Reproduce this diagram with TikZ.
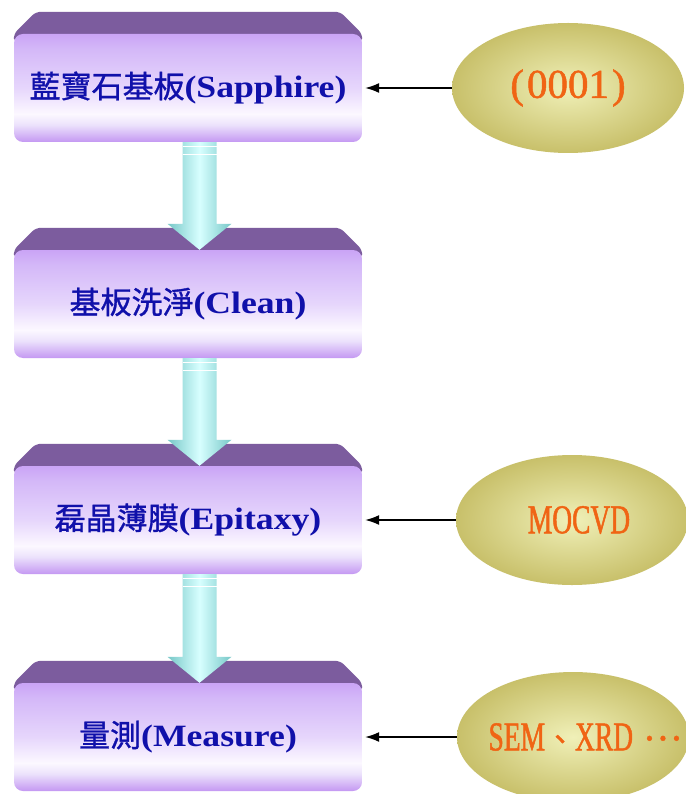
\documentclass[tikz,border=0pt]{standalone}
\usepackage{fontspec}
\setmainfont{Liberation Serif}
\newfontfamily\cjk{Noto Sans CJK TC}[FakeBold=1]
\newfontfamily\widefont{Liberation Serif}[FakeStretch=1.15]
\newfontfamily\ovalfont{Liberation Serif}[FakeBold=1.2]
\newfontfamily\narrowfont{Liberation Serif}[FakeStretch=0.67,FakeBold=1.2]
\usetikzlibrary{shapes.geometric,backgrounds,arrows.meta}

\definecolor{boxviolet}{RGB}{196,152,242}
\definecolor{boxtop}{RGB}{202,164,246}
\definecolor{boxpale}{RGB}{236,226,252}
\definecolor{boxwhite}{RGB}{252,248,255}
\definecolor{boxmid}{RGB}{230,214,252}
\definecolor{boxupper}{RGB}{212,184,248}
\definecolor{boxband}{RGB}{124,92,158}
\definecolor{labelblue}{RGB}{16,16,170}
\definecolor{labelorange}{RGB}{240,100,20}
\definecolor{ovalinner}{RGB}{240,240,184}
\definecolor{ovalouter}{RGB}{200,192,106}
\definecolor{flowedge}{RGB}{120,200,200}
\definecolor{flowmid}{RGB}{215,255,255}

\pgfdeclareverticalshading{stepshade}{100bp}{color(0bp)=(boxviolet); color(25bp)=(boxviolet); color(33bp)=(boxpale); color(38bp)=(boxwhite); color(50bp)=(boxmid); color(68bp)=(boxupper); color(75bp)=(boxtop); color(100bp)=(boxtop)}

\begin{document}
\begin{tikzpicture}[x=1pt, y=-1pt,
  stepbox/.style={rectangle, rounded corners=9pt, minimum width=348pt, minimum height=108pt,
    inner sep=0pt, shade, shading=stepshade, text=labelblue, font=\fontsize{31}{36}\selectfont},
  oval/.style={ellipse, minimum width=232pt, minimum height=130pt, inner sep=0pt,
    inner color=ovalinner, outer color=ovalouter, text=labelorange, font=\fontsize{41}{44}\selectfont},
  flowarrow/.style={left color=flowedge, right color=flowedge, middle color=flowmid},
  feed/.style={-{Latex[length=14pt,width=10pt]}, line width=1.4pt, shorten >=3pt}]

\useasboundingbox (0,0) rectangle (685,794);
\begin{pgfonlayer}{background}
\fill[white] (0,0) rectangle (685,794);
\end{pgfonlayer}

% Process steps
\node[stepbox] (sapphire) at (188,88) {{\cjk 藍寶石基板}{\widefont\bfseries(Sapphire)}};
\node[stepbox] (clean) at (188,304) {{\cjk 基板洗淨}{\widefont\bfseries(Clean)}};
\node[stepbox] (epitaxy) at (188,520) {{\cjk 磊晶薄膜}{\widefont\bfseries(Epitaxy)}};
\node[stepbox] (measure) at (188,737) {{\cjk 量測}{\widefont\bfseries(Measure)}};

% Dark top bevel of each step
\begin{pgfonlayer}{background}
\foreach \s in {sapphire,clean,epitaxy,measure}
  \fill[boxband, rounded corners=5pt] ([yshift=-9pt]\s.north west) -- (\s.north west)
    -- ([xshift=22pt,yshift=22pt]\s.north west) -- ([xshift=-22pt,yshift=22pt]\s.north east)
    -- (\s.north east) -- ([yshift=-9pt]\s.north east) -- cycle;
\end{pgfonlayer}

% Arrows between steps
\foreach \a/\b in {sapphire/clean, clean/epitaxy, epitaxy/measure} {
  \shade[flowarrow] ([xshift=-5.5pt]\a.south) -- ([xshift=28.5pt]\a.south)
    -- ([xshift=28.5pt,yshift=26pt]\b.north) -- ([xshift=43.5pt,yshift=26pt]\b.north)
    -- ([xshift=11.5pt]\b.north) -- ([xshift=-20.5pt,yshift=26pt]\b.north)
    -- ([xshift=-5.5pt,yshift=26pt]\b.north) -- cycle;
  \draw[white, line width=1.5pt] ([xshift=-5.5pt,yshift=-4.5pt]\a.south) -- ++(34,0);
  \draw[white, line width=1.5pt] ([xshift=-5.5pt,yshift=-12.5pt]\a.south) -- ++(34,0);
}

% Inputs on the right
\node[oval] (orient) at (568,88) {\makebox[0pt]{\ovalfont(\kern3pt0001\kern3pt)}};
\node[oval] (mocvd) at (572,520) {\makebox[0pt]{\hspace*{14pt}\narrowfont MOCVD}};
\node[oval] (sem) at (573,737) {\makebox[0pt]{\hspace*{24pt}{\narrowfont SEM}{\cjk\fontsize{30}{30}\selectfont 、}{\narrowfont XRD}\ \raisebox{10pt}{\cjk\fontsize{36}{36}\selectfont …}}};

\draw[feed] (orient) -- (sapphire);
\draw[feed] (mocvd) -- (epitaxy);
\draw[feed] (sem) -- (measure);

\end{tikzpicture}
\end{document}
